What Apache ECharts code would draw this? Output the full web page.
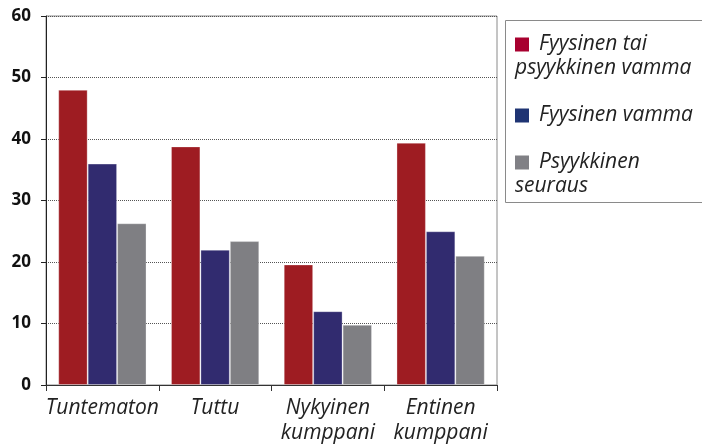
<!DOCTYPE html>
<html>
<head>
<meta charset="utf-8">
<script src="https://cdn.jsdelivr.net/npm/echarts@6/dist/echarts.min.js"></script>
<style>
html,body{margin:0;padding:0;background:#fff;}
#chart{width:702px;height:446px;}
</style>
</head>
<body>
<div id="chart"></div>
<script>
var categories = ['Tuntematon', 'Tuttu', 'Nykyinen\nkumppani', 'Entinen\nkumppani'];
var seriesNames = ['Fyysinen tai psyykkinen vamma', 'Fyysinen vamma', 'Psyykkinen seuraus'];
var legendLines = [['Fyysinen tai', 'psyykkinen vamma'], ['Fyysinen vamma'], ['Psyykkinen', 'seuraus']];
var valuesEither = [48, 38.8, 19.6, 39.4];
var valuesPhysical = [36, 22, 12, 25];
var valuesPsych = [26.3, 23.4, 9.8, 21];
var yTicks = [0, 10, 20, 30, 40, 50, 60];

var barColors = ['#9e1c22', '#312b6f', '#7f7f83'];
var markerColors = ['#a8002f', '#1f3473', '#808085'];
var seriesValues = [valuesEither, valuesPhysical, valuesPsych];
var FONT = 'Open Sans';

var rich = {
  s: { width: 10, fontSize: 21, lineHeight: 24 },
  t: { fontSize: 21, lineHeight: 24, fontStyle: 'italic', color: '#222', fontFamily: FONT }
};
markerColors.forEach(function (c, i) {
  rich['m' + i] = { width: 14, height: 14, backgroundColor: c, fontSize: 12, lineHeight: 24 };
});

var chart = echarts.init(document.getElementById('chart'), null, { renderer: 'canvas' });
chart.setOption({
  animation: false,
  backgroundColor: '#fff',
  grid: {
    left: 46, top: 16, right: 205, bottom: 60,
    show: true, borderColor: '#8a8a8a', borderWidth: 1, backgroundColor: 'transparent'
  },
  graphic: [{
    type: 'rect',
    silent: true,
    shape: { x: 505.5, y: 20.5, width: 260, height: 182 },
    style: { fill: 'none', stroke: '#8a8a8a', lineWidth: 1 }
  }],
  legend: {
    orient: 'vertical',
    left: 505, top: 20,
    padding: [14, 5, 3, 4],
    itemGap: 26,
    itemWidth: 0, itemHeight: 0,
    selectedMode: false,
    data: seriesNames,
    textStyle: { rich: rich, fontFamily: FONT, fontStyle: 'italic', fontSize: 21, color: '#222' },
    formatter: function (name) {
      var i = seriesNames.indexOf(name);
      var lines = legendLines[i];
      var out = '{m' + i + '| }{s| }{t|' + lines[0] + '}';
      for (var k = 1; k < lines.length; k++) out += '\n{t|' + lines[k] + '}';
      return out;
    }
  },
  xAxis: {
    type: 'category',
    data: categories,
    axisLine: { lineStyle: { color: '#333', width: 1 } },
    axisTick: { show: true, length: 6, lineStyle: { color: '#333' } },
    axisLabel: {
      interval: 0,
      margin: 11, color: '#222', fontFamily: FONT, fontStyle: 'italic',
      fontSize: 21, lineHeight: 25, verticalAlign: 'top'
    },
    splitLine: { show: false }
  },
  yAxis: {
    type: 'value',
    min: yTicks[0], max: yTicks[yTicks.length - 1], interval: 10,
    axisLine: { show: true, lineStyle: { color: '#222', width: 1 } },
    axisTick: { show: true, length: 5, lineStyle: { color: '#222' } },
    axisLabel: { margin: 15, color: '#111', fontFamily: FONT, fontWeight: 'bold', fontSize: 17 },
    splitLine: { show: true, lineStyle: { color: '#555', type: 'dotted', width: 1 } }
  },
  series: seriesNames.map(function (n, i) {
    return {
      name: n,
      type: 'bar',
      data: seriesValues[i],
      barGap: '0%',
      barCategoryGap: '21.7%',
      itemStyle: { color: barColors[i], borderColor: 'rgba(255,255,255,0.3)', borderWidth: 1 }
    };
  })
});
</script>
</body>
</html>
